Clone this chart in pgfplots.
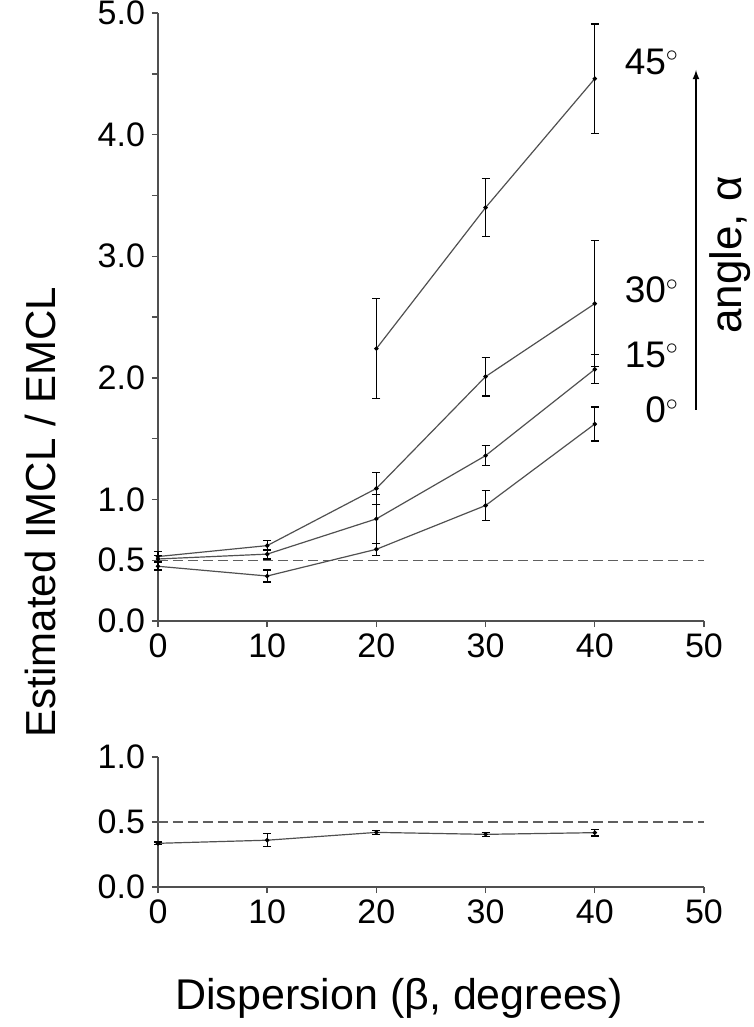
\documentclass[border=0pt]{standalone}
\usepackage{fontspec}
\setmainfont{Liberation Sans}
\usepackage{pgfplots}
\pgfplotsset{compat=1.18}
\definecolor{linegray}{RGB}{80,80,80}
\definecolor{dashgray}{RGB}{95,95,95}

\pgfplotsset{
  panel/.style={
    scale only axis, width=273pt,
    axis x line=bottom, axis y line=left,
    axis line style={-, draw=linegray, line width=0.7pt},
    tick align=outside, major tick length=3pt, minor tick length=3pt,
    every tick/.style={linegray, line width=0.7pt},
    xmin=0, xmax=50, xtick={0,10,...,50},
    ticklabel style={font=\fontsize{17}{20}\selectfont},
    yticklabel style={/pgf/number format/.cd, fixed, fixed zerofill, precision=1},
    /pgf/number format/assume math mode=true,
    clip=false,
  },
  series/.style={draw=linegray, line width=0.6pt, mark=*, mark size=0.8pt,
    mark options={black, fill=black},
    error bars/.cd, y dir=both, y explicit,
    error bar style={black, line width=0.6pt},
    error mark options={rotate=90, mark size=2pt, line width=0.6pt, black}},
  ref/.style={dashgray, line width=0.7pt, dash pattern=on 5pt off 2.5pt},
}

\begin{document}
\begin{tikzpicture}
\useasboundingbox (-79pt,-203pt) rectangle (298pt,310.5pt);

% upper panel: alpha = 0, 15, 30, 45 degrees
\begin{axis}[panel, height=304pt, at={(0,0)}, anchor=south west,
  ymin=0, ymax=5, ytick={0,0.5,1,2,3,4,5}, minor ytick={1.5,2.5,3.5,4.5}]
  \addplot[ref] coordinates {(0,0.5) (50,0.5)};
  \addplot[series] coordinates {
    (20,2.24) +- (0,0.41) (30,3.40) +- (0,0.24) (40,4.46) +- (0,0.45)};
  \addplot[series] coordinates {
    (0,0.53) +- (0,0.04) (10,0.62) +- (0,0.04) (20,1.09) +- (0,0.13)
    (30,2.01) +- (0,0.16) (40,2.61) +- (0,0.52)};
  \addplot[series] coordinates {
    (0,0.51) +- (0,0.03) (10,0.55) +- (0,0.04) (20,0.84) +- (0,0.20)
    (30,1.36) +- (0,0.08) (40,2.07) +- (0,0.12)};
  \addplot[series] coordinates {
    (0,0.45) +- (0,0.03) (10,0.37) +- (0,0.05) (20,0.59) +- (0,0.05)
    (30,0.95) +- (0,0.125) (40,1.62) +- (0,0.14)};
\end{axis}

% lower panel
\begin{axis}[panel, height=65pt, at={(0,-133pt)}, anchor=south west,
  ymin=0, ymax=1, ytick={0,0.5,1}]
  \addplot[ref] coordinates {(0,0.5) (50,0.5)};
  \addplot[series] coordinates {
    (0,0.336) +- (0,0.01) (10,0.36) +- (0,0.05) (20,0.42) +- (0,0.015)
    (30,0.405) +- (0,0.015) (40,0.418) +- (0,0.025)};
\end{axis}

% labels
\node[rotate=90, font=\fontsize{21}{24}\selectfont] at (-59pt,54.5pt) {Estimated IMCL / EMCL};
\node[font=\fontsize{21.5}{24}\selectfont] at (120.5pt,-188.5pt) {Dispersion (β, degrees)};

\begin{scope}[font=\fontsize{18.5}{22}\selectfont]
  \node[anchor=east] at (264pt,279.5pt) {45$^\circ$};
  \node[anchor=east] at (264pt,165.5pt) {30$^\circ$};
  \node[anchor=east] at (264pt,133pt) {15$^\circ$};
  \node[anchor=east] at (264pt,105.5pt) {0$^\circ$};
\end{scope}
\draw[-latex, black, line width=0.6pt] (269pt,105.5pt) -- (269pt,275.5pt);
\node[rotate=90, font=\fontsize{22}{26}\selectfont] at (286pt,183pt) {angle, α};
\end{tikzpicture}
\end{document}
